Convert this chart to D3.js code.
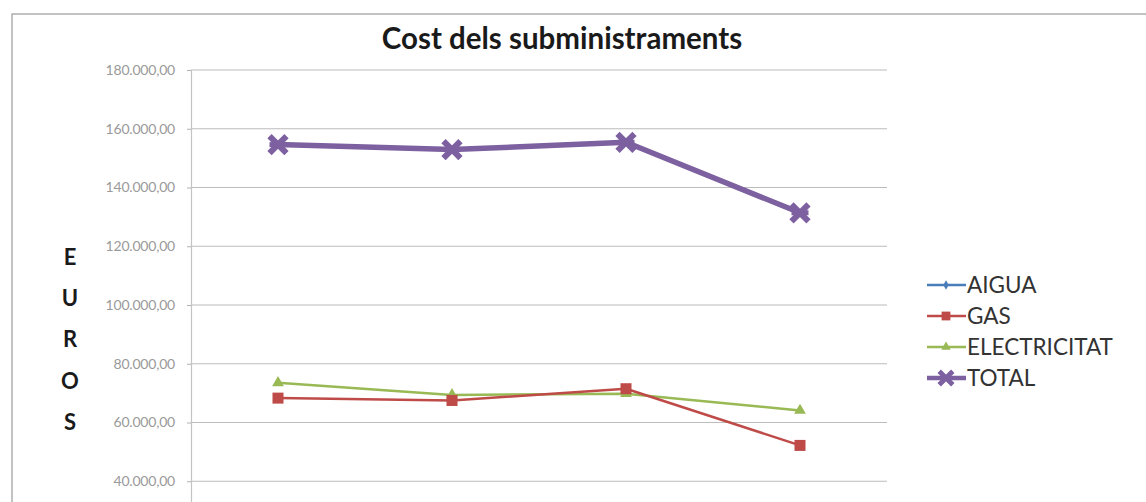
<!DOCTYPE html>
<html><head><meta charset="utf-8">
<script src="https://cdn.jsdelivr.net/npm/d3@7"></script>
<style>
html,body{margin:0;padding:0;background:#fff;overflow:hidden;width:1146px;height:502px;}
</style></head>
<body>
<script>
const categories = ["2007", "2008", "2009", "2010"];
const aigua = [12800, 16000, 14100, 15100];
const gas = [68300, 67500, 71500, 52200];
const electricitat = [73500, 69400, 69800, 64100];
const total = [154600, 152900, 155400, 131400];
const yTicks = [40000, 60000, 80000, 100000, 120000, 140000, 160000, 180000];
const seriesNames = ["AIGUA", "GAS", "ELECTRICITAT", "TOTAL"];
const seriesColors = ["#4a7ebb", "#be4b48", "#98b954", "#7d60a0"];
const title = "Cost dels subministraments";
const yTitle = ["E", "U", "R", "O", "S"];

const series = [aigua, gas, electricitat, total];
const W = 1146, H = 700;
const svg = d3.select("body").append("svg").attr("width", W).attr("height", H);

// chart frame
svg.append("rect").attr("x", 12).attr("y", 14).attr("width", W).attr("height", H)
  .attr("fill", "#fff").attr("stroke", "#9a9a9a").attr("stroke-width", 1.2);

const plot = {left: 191, right: 887, top: 70, bottom: 598.75};
const x = d3.scaleBand().domain(categories).range([plot.left, plot.right]);
const y = d3.scaleLinear().domain([0, 180000]).range([plot.bottom, plot.top]);

// gridlines
svg.append("g").selectAll("line").data(yTicks).join("line")
  .attr("x1", plot.left).attr("x2", plot.right)
  .attr("y1", d => y(d)).attr("y2", d => y(d))
  .attr("stroke", "#bcbcbc").attr("stroke-width", 1.2);

const fmt = v => d3.format(",.2f")(v).replace(/,/g, "X").replace(/\./g, ",").replace(/X/g, ".");
const yAxis = d3.axisLeft(y).tickValues(yTicks).tickSize(4).tickPadding(12).tickFormat(fmt);
const gy = svg.append("g").attr("transform", `translate(${plot.left},0)`).call(yAxis);
gy.select(".domain").attr("stroke", "#c4c4c4").attr("stroke-width", 1.2);
gy.selectAll(".tick line").attr("stroke", "#b0b0b0");
gy.selectAll("text").attr("fill", "#9a9a9a").style("font-family", "Lato, sans-serif")
  .style("font-size", "14px").attr("letter-spacing", "-0.2");

// title
svg.append("text").attr("x", 562).attr("y", 49).attr("text-anchor", "middle")
  .style("font-family", "Lato, 'Open Sans', sans-serif").style("font-weight", "bold")
  .style("font-size", "29.5px").attr("fill", "#1a1a1a").text(title);

// y title stacked
svg.append("g").selectAll("text").data(yTitle).join("text")
  .attr("x", 70).attr("y", (d, i) => 265 + i * 41.2).attr("text-anchor", "middle")
  .style("font-family", "Lato, 'Open Sans', sans-serif").style("font-weight", "bold")
  .style("font-size", "22px").attr("fill", "#1a1a1a").text(d => d);

const cx = c => x(c) + x.bandwidth() / 2;
const line = d3.line().x((d, i) => cx(categories[i])).y(d => y(d));

function drawMarker(g, idx, px, py, scale) {
  const col = seriesColors[idx];
  const s = scale || 1;
  if (idx === 0) {
    g.append("path").attr("d", d3.symbol(d3.symbolDiamond, 40 * s * s)())
      .attr("transform", `translate(${px},${py})`).attr("fill", col);
  } else if (idx === 1) {
    g.append("rect").attr("x", px - 5.5 * s).attr("y", py - 5.5 * s)
      .attr("width", 11 * s).attr("height", 11 * s).attr("fill", col);
  } else if (idx === 2) {
    g.append("path").attr("d", d3.symbol(d3.symbolTriangle, 60 * s * s)())
      .attr("transform", `translate(${px},${py})`).attr("fill", col);
  } else {
    const r = 8.5 * s;
    g.append("path").attr("d", `M${px - r},${py - r}L${px + r},${py + r}M${px - r},${py + r}L${px + r},${py - r}`)
      .attr("stroke", col).attr("stroke-width", 6 * s).attr("stroke-linecap", "butt").attr("fill", "none");
    g.append("path").attr("d", `M${px - r},${py}L${px + r},${py}`)
      .attr("stroke", col).attr("stroke-width", 5 * s).attr("fill", "none");
  }
}

const lineWidths = [2.5, 2.5, 2.5, 5.5];
const order = [0, 2, 1, 3];
order.forEach(idx => {
  const g = svg.append("g");
  g.append("path").datum(series[idx]).attr("d", line).attr("fill", "none")
    .attr("stroke", seriesColors[idx]).attr("stroke-width", lineWidths[idx]).attr("stroke-linejoin", "round");
  series[idx].forEach((v, i) => drawMarker(g, idx, cx(categories[i]), y(v)));
});

// legend
const lg = svg.append("g");
seriesNames.forEach((name, idx) => {
  const ly = 285 + idx * 31;
  lg.append("line").attr("x1", 927).attr("x2", 966).attr("y1", ly).attr("y2", ly)
    .attr("stroke", seriesColors[idx]).attr("stroke-width", idx === 3 ? 4.5 : 2.5);
  drawMarker(lg, idx, 946, ly, 0.8);
  lg.append("text").attr("x", 967).attr("y", ly + 8)
    .style("font-family", "Lato, 'Open Sans', sans-serif").style("font-size", "22.5px")
    .attr("fill", "#333").text(name);
});
</script>
</body></html>
